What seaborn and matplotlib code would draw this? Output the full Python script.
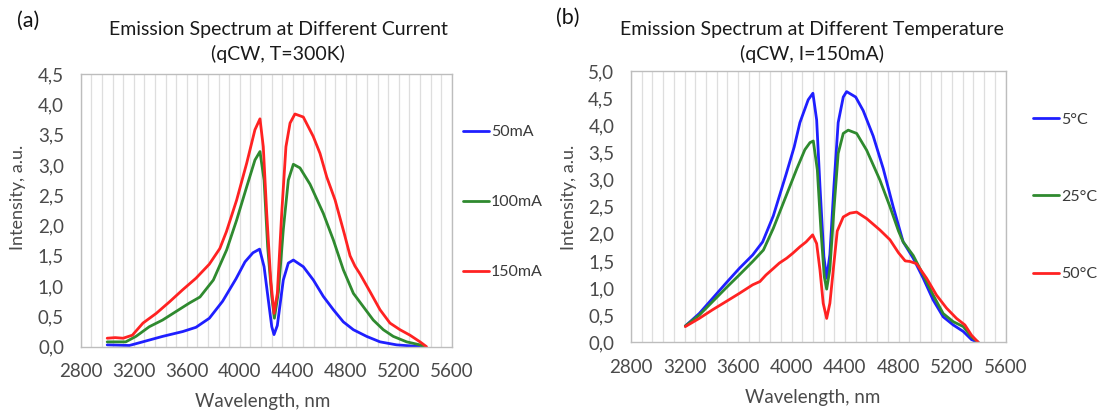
import numpy as np
import pandas as pd
import matplotlib
matplotlib.use("Agg")
import matplotlib.pyplot as plt
import seaborn as sns
from matplotlib.ticker import FuncFormatter, MultipleLocator

# ---------------- data: panel (a) ----------------
wl_50mA = [3000, 3167, 3268, 3418, 3570, 3670, 3771, 3871, 3972, 4040, 4100, 4150, 4184, 4216,
           4242, 4259, 4284, 4329, 4367, 4405, 4480, 4556, 4631, 4707, 4782, 4858, 4958, 5059,
           5185, 5310, 5400]
i_50mA = [0.03, 0.02, 0.08, 0.17, 0.25, 0.32, 0.47, 0.75, 1.12, 1.40, 1.55, 1.61, 1.32, 0.77,
          0.33, 0.20, 0.35, 1.10, 1.38, 1.43, 1.32, 1.10, 0.83, 0.61, 0.41, 0.28, 0.17, 0.08,
          0.03, 0.01, 0.00]

wl_100mA = [3000, 3140, 3217, 3318, 3418, 3519, 3620, 3700, 3801, 3902, 3977, 4053, 4115, 4153,
            4184, 4211, 4242, 4262, 4292, 4329, 4367, 4405, 4455, 4531, 4631, 4707, 4782, 4858,
            4933, 5008, 5084, 5159, 5260, 5361, 5400]
i_100mA = [0.08, 0.08, 0.17, 0.33, 0.44, 0.58, 0.72, 0.82, 1.10, 1.60, 2.09, 2.64, 3.08, 3.22,
           2.75, 1.65, 0.83, 0.47, 0.90, 1.93, 2.75, 3.01, 2.95, 2.68, 2.20, 1.76, 1.27, 0.88,
           0.66, 0.44, 0.28, 0.17, 0.08, 0.03, 0.00]

wl_150mA = [3000, 3060, 3120, 3190, 3270, 3370, 3470, 3570, 3670, 3770, 3850, 3900, 3977, 4053,
            4115, 4153, 4178, 4204, 4234, 4259, 4284, 4317, 4349, 4380, 4417, 4480, 4555, 4606,
            4657, 4720, 4790, 4833, 4870, 4908, 4983, 5059, 5134, 5210, 5285, 5361, 5410]
i_150mA = [0.14, 0.15, 0.14, 0.19, 0.39, 0.55, 0.74, 0.94, 1.13, 1.36, 1.62, 1.90, 2.42, 3.03,
           3.58, 3.76, 3.30, 2.20, 1.10, 0.55, 0.88, 2.20, 3.30, 3.69, 3.84, 3.79, 3.47, 3.19,
           2.80, 2.42, 1.86, 1.50, 1.33, 1.20, 0.91, 0.61, 0.39, 0.28, 0.19, 0.08, 0.00]

# ---------------- data: panel (b) ----------------
wl_5C = [3206, 3310, 3410, 3510, 3609, 3710, 3784, 3864, 3960, 4020, 4063, 4125, 4160, 4188,
         4213, 4242, 4263, 4287, 4317, 4349, 4387, 4412, 4480, 4536, 4611, 4686, 4760, 4835,
         4910, 4985, 5059, 5134, 5209, 5284, 5346, 5396]
i_5C = [0.30, 0.53, 0.81, 1.09, 1.36, 1.61, 1.85, 2.33, 3.10, 3.60, 4.05, 4.47, 4.59, 4.10,
        2.87, 1.58, 1.18, 1.62, 2.87, 4.05, 4.52, 4.62, 4.52, 4.27, 3.80, 3.20, 2.50, 1.85,
        1.55, 1.18, 0.78, 0.47, 0.32, 0.20, 0.05, 0.00]

wl_25C = [3206, 3310, 3410, 3510, 3609, 3710, 3790, 3864, 3960, 4040, 4100, 4138, 4163, 4193,
          4220, 4245, 4263, 4287, 4317, 4349, 4387, 4424, 4487, 4562, 4661, 4736, 4800, 4835,
          4910, 4985, 5059, 5134, 5209, 5284, 5346, 5396]
i_25C = [0.30, 0.50, 0.75, 1.00, 1.24, 1.49, 1.70, 2.10, 2.70, 3.20, 3.55, 3.68, 3.71, 3.18,
         2.07, 1.21, 0.98, 1.35, 2.44, 3.48, 3.85, 3.91, 3.85, 3.54, 2.99, 2.50, 2.05, 1.85,
         1.60, 1.24, 0.87, 0.53, 0.38, 0.29, 0.10, 0.00]

wl_50C = [3206, 3310, 3410, 3510, 3609, 3710, 3764, 3809, 3864, 3909, 3964, 4009, 4063, 4109,
          4158, 4188, 4213, 4237, 4263, 4287, 4312, 4342, 4387, 4437, 4487, 4562, 4661, 4736,
          4800, 4850, 4885, 4934, 5010, 5084, 5159, 5234, 5296, 5346, 5396]
i_50C = [0.29, 0.44, 0.60, 0.75, 0.90, 1.06, 1.12, 1.24, 1.36, 1.46, 1.55, 1.64, 1.76, 1.85,
         1.98, 1.82, 1.33, 0.72, 0.44, 0.72, 1.33, 2.05, 2.31, 2.38, 2.40, 2.28, 2.07, 1.89,
         1.65, 1.50, 1.49, 1.45, 1.18, 0.87, 0.63, 0.44, 0.32, 0.13, 0.00]

labels_a = ["50mA", "100mA", "150mA"]
labels_b = ["5°C", "25°C", "50°C"]
x_ticks = [2800, 3200, 3600, 4000, 4400, 4800, 5200, 5600]

COL_BLUE = "#1f1fff"
COL_GREEN = "#2f8a2f"
COL_RED = "#ff2222"

sns.set_style("white")
plt.rcParams['font.family'] = ['Lato', 'DejaVu Sans']

TXT = "#3a3a3a"
TICK = "#4a4a4a"


def build_df(series, labels):
    frames = []
    for (wl, iv), lab in zip(series, labels):
        frames.append(pd.DataFrame({"Wavelength": wl, "Intensity": iv, "Series": lab}))
    return pd.concat(frames, ignore_index=True)


df_a = build_df([(wl_50mA, i_50mA), (wl_100mA, i_100mA), (wl_150mA, i_150mA)], labels_a)
df_b = build_df([(wl_5C, i_5C), (wl_25C, i_25C), (wl_50C, i_50C)], labels_b)

W, H = 1104, 412
fig = plt.figure(figsize=(W / 100, H / 100), dpi=100)


def px_axes(l, t, r, b):
    return fig.add_axes([l / W, 1 - b / H, (r - l) / W, (b - t) / H])


ax_a = px_axes(80.7, 74, 451.7, 346.7)
ax_b = px_axes(631, 71, 1005.5, 342.3)

comma = FuncFormatter(lambda v, p: f"{v:.1f}".replace(".", ","))


def style_axes(ax, df, labels, ymax):
    sns.lineplot(data=df, x="Wavelength", y="Intensity", hue="Series", hue_order=labels,
                 palette=[COL_BLUE, COL_GREEN, COL_RED], estimator=None, sort=False,
                 linewidth=2.0, ax=ax, legend=True)
    ax.set_xlim(2800, 5600)
    ax.set_ylim(0, ymax)
    ax.set_xticks(x_ticks)
    ax.xaxis.set_minor_locator(MultipleLocator(80))
    ax.yaxis.set_major_locator(MultipleLocator(0.5))
    ax.yaxis.set_major_formatter(comma)
    ax.grid(False)
    ax.grid(True, which="both", axis="x", color="#dedede", linewidth=0.9)
    ax.set_axisbelow(True)
    for s in ax.spines.values():
        s.set_color("#bdbdbd")
        s.set_linewidth(1.0)
    ax.tick_params(axis="both", which="both", length=0, labelsize=13.5, colors=TICK)
    ax.tick_params(axis="y", pad=12)
    ax.tick_params(axis="x", pad=12)
    ax.set_xlabel("")
    ax.set_ylabel("")
    leg = ax.get_legend()
    if leg is not None:
        leg.remove()


style_axes(ax_a, df_a, labels_a, 4.5)
style_axes(ax_b, df_b, labels_b, 5.0)

# legends (Excel-style, spaced entries to the right of plot area)
h_a, l_a = ax_a.get_legend_handles_labels()
fig.legend(h_a, l_a, loc="upper left", bbox_to_anchor=(463 / W, 1 - 125 / H),
           frameon=False, fontsize=11.5, handlelength=1.6, handletextpad=0.15,
           labelspacing=3.5, borderpad=0, borderaxespad=0, labelcolor=TXT)
h_b, l_b = ax_b.get_legend_handles_labels()
fig.legend(h_b, l_b, loc="upper left", bbox_to_anchor=(1033 / W, 1 - 112.5 / H),
           frameon=False, fontsize=11.5, handlelength=1.6, handletextpad=0.15,
           labelspacing=3.95, borderpad=0, borderaxespad=0, labelcolor=TXT)

# titles, axis labels, panel labels
fig.text(278 / W, 1 - 29 / H, "Emission Spectrum at Different Current", ha="center",
         va="center", fontsize=14, color="#1a1a1a")
fig.text(278 / W, 1 - 54 / H, "(qCW, T=300K)", ha="center", va="center", fontsize=14,
         color="#1a1a1a")
fig.text(812 / W, 1 - 29 / H, "Emission Spectrum at Different Temperature", ha="center",
         va="center", fontsize=14, color="#1a1a1a")
fig.text(812 / W, 1 - 54 / H, "(qCW, I=150mA)", ha="center", va="center", fontsize=14,
         color="#1a1a1a")

fig.text(28 / W, 1 - 21 / H, "(a)", ha="center", va="center", fontsize=15.5, color="#111111")
fig.text(568 / W, 1 - 18 / H, "(b)", ha="center", va="center", fontsize=15.5, color="#111111")

fig.text(263 / W, 1 - 401 / H, "Wavelength, nm", ha="center", va="center", fontsize=13.5,
         color=TICK)
fig.text(813 / W, 1 - 398 / H, "Wavelength, nm", ha="center", va="center", fontsize=13.5,
         color=TICK)
fig.text(18 / W, 1 - 197 / H, "Intensity, a.u.", ha="center", va="center", fontsize=13,
         rotation=90, color=TICK)
fig.text(569 / W, 1 - 197 / H, "Intensity, a.u.", ha="center", va="center", fontsize=13,
         rotation=90, color=TICK)

fig.savefig("out.png", dpi=100, facecolor="white")
